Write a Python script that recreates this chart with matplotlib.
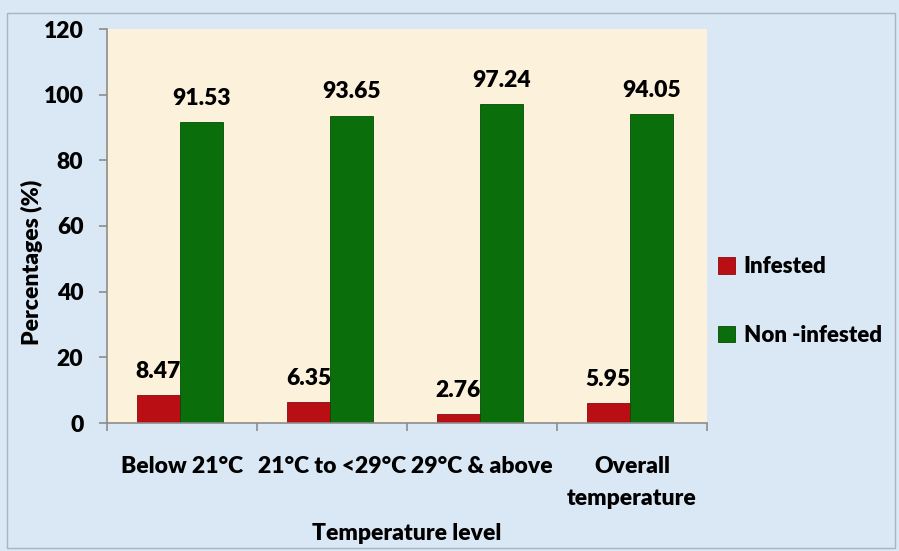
import matplotlib
matplotlib.use("Agg")
import matplotlib.pyplot as plt
from matplotlib.patches import Rectangle
import numpy as np

categories = ["Below 21°C", "21°C to <29°C", "29°C & above", "Overall\ntemperature"]
infested = [8.47, 6.35, 2.76, 5.95]
non_infested = [91.53, 93.65, 97.24, 94.05]
series_names = ["Infested", "Non -infested"]

plt.rcParams["font.family"] = ["Lato", "DejaVu Sans"]
FS = 16.5
WT = "heavy"

fig = plt.figure(figsize=(8.99, 5.51), dpi=100)
fig.patch.set_facecolor("#DAE7F4")
fig.patches.append(Rectangle((7 / 899, 3 / 551), 888 / 899, 535 / 551, transform=fig.transFigure,
                             fill=False, edgecolor="#A9B4C0", linewidth=1.0))

ax = fig.add_axes([107 / 899, 128 / 551, 600 / 899, 394 / 551])
ax.set_facecolor("#FCF2DC")

x = np.arange(len(categories))
w = 0.285
shift = -0.015
b1 = ax.bar(x + shift - w / 2, infested, w, color="#B80E14", edgecolor="#8A0A0E", linewidth=0.6,
            label=series_names[0])
b2 = ax.bar(x + shift + w / 2, non_infested, w, color="#0A6E0A", edgecolor="#064A06", linewidth=0.6,
            label=series_names[1])

for bars, vals in [(b1, infested), (b2, non_infested)]:
    for bar, v in zip(bars, vals):
        ax.annotate(f"{v:.2f}", (bar.get_x() + bar.get_width() / 2, v), xytext=(0, 17),
                    textcoords="offset points", ha="center", va="center",
                    fontsize=FS, fontweight=WT)

ax.set_xlim(-0.5, len(categories) - 0.5)
ax.set_ylim(0, 120)
ax.set_yticks(range(0, 121, 20))
ax.set_xticks(x)
ax.set_xticklabels(categories, fontsize=FS, fontweight=WT, linespacing=1.6, va="top")
ax.set_xticks(np.arange(-0.5, len(categories)), minor=True)
ax.tick_params(axis="x", which="major", length=0, pad=24)
ax.tick_params(axis="x", which="minor", length=6, color="#8C8C8C", width=1.2)
ax.tick_params(axis="y", length=6, color="#8C8C8C", width=1.2, pad=11, labelsize=FS)
for t in ax.get_yticklabels():
    t.set_fontweight(WT)

for s in ["top", "right"]:
    ax.spines[s].set_visible(False)
for s in ["left", "bottom"]:
    ax.spines[s].set_color("#8C8C8C")
    ax.spines[s].set_linewidth(1.2)

ax.set_ylabel("Percentages (%)", fontsize=FS, fontweight=WT)
ax.yaxis.set_label_coords(-75 / 600, (423 - 262) / 394)
ax.yaxis.label.set_va("center")
ax.set_xlabel("Temperature level", fontsize=FS, fontweight=WT)
ax.xaxis.set_label_coords(0.5, -(533 - 423) / 394)
ax.xaxis.label.set_va("center")

leg = fig.legend(handles=[b1, b2], labels=series_names, loc="center left",
                 bbox_to_anchor=(718 / 899, 1 - 301 / 551), frameon=False,
                 borderpad=0, borderaxespad=0,
                 labelspacing=2.15, handlelength=0.75, handleheight=0.75,
                 handletextpad=0.4, prop={"weight": WT, "size": 16})

fig.savefig("out.png", dpi=100, facecolor=fig.get_facecolor())
